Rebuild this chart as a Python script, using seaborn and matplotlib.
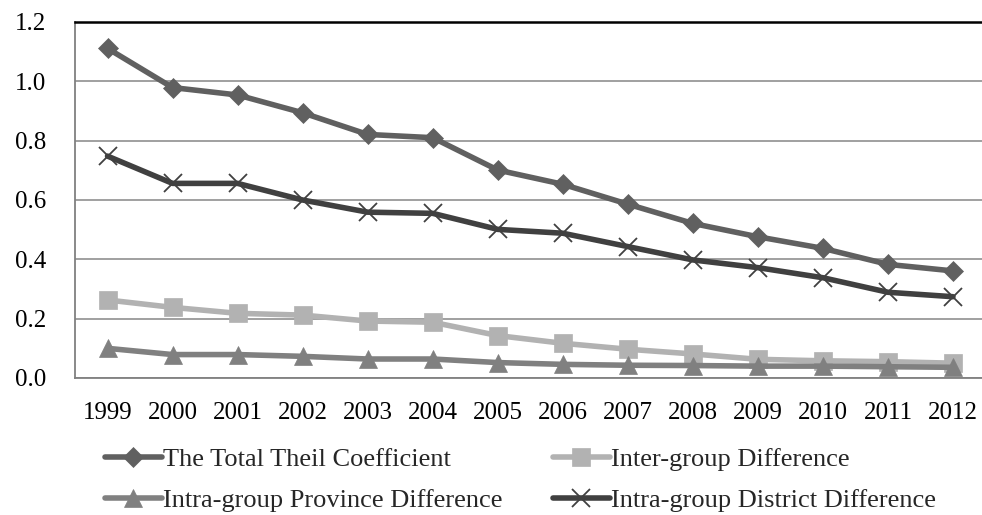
import matplotlib
matplotlib.use("Agg")
import matplotlib.pyplot as plt
import seaborn as sns
import pandas as pd
import numpy as np

years = ["1999", "2000", "2001", "2002", "2003", "2004", "2005", "2006",
         "2007", "2008", "2009", "2010", "2011", "2012"]
total_theil = [1.111, 0.979, 0.954, 0.894, 0.821, 0.810, 0.701, 0.653,
               0.586, 0.521, 0.476, 0.437, 0.383, 0.361]
inter_group = [0.263, 0.238, 0.218, 0.212, 0.192, 0.188, 0.143, 0.117,
               0.097, 0.081, 0.063, 0.058, 0.055, 0.050]
intra_province = [0.100, 0.079, 0.079, 0.073, 0.064, 0.064, 0.052, 0.046,
                  0.043, 0.042, 0.040, 0.040, 0.038, 0.036]
intra_district = [0.748, 0.656, 0.656, 0.600, 0.559, 0.555, 0.501, 0.488,
                  0.443, 0.398, 0.372, 0.338, 0.289, 0.274]

series_names = ["The Total Theil Coefficient", "Inter-group Difference",
                "Intra-group Province Difference", "Intra-group District Difference"]
series_values = [total_theil, inter_group, intra_province, intra_district]
colors = ["#606060", "#b2b2b2", "#808080", "#404040"]
markers = ["D", "s", "^", "x"]
msizes = [10, 13, 13, 13]

sns.set_theme(style="white")
plt.rcParams["font.family"] = ["Liberation Serif", "DejaVu Serif"]

W, H = 982, 515
fig = plt.figure(figsize=(W / 100, H / 100), dpi=100)
left_px, right_px, top_px, bottom_px = 75, 985.5, 22, 378
ax = fig.add_axes([left_px / W, 1 - bottom_px / H,
                   (right_px - left_px) / W, (bottom_px - top_px) / H])

xpos = np.arange(len(years))
handles = []
for name, vals, c, m, ms in zip(series_names, series_values, colors, markers, msizes):
    df = pd.DataFrame({"x": xpos, "y": vals})
    sns.lineplot(data=df, x="x", y="y", ax=ax, color=c, linewidth=4,
                 marker=m, markersize=ms, markeredgecolor=c,
                 markeredgewidth=1.3 if m == "x" else 0.5, label=name, legend=False)
    handles.append(ax.lines[-1])

ax.set_xlim(-0.5, len(years) - 0.5)
ax.set_ylim(0, 1.2)
yt = np.arange(0, 1.21, 0.2)
ax.set_yticks(yt)
ax.set_yticklabels([f"{v:.1f}" for v in yt])
ax.set_xticks(xpos)
ax.set_xticklabels(years)
ax.set_xticks(np.arange(0.5, len(years) - 0.5, 1), minor=True)
ax.tick_params(axis="x", which="major", length=0, labelsize=18, pad=17, colors="black")
ax.tick_params(axis="x", which="minor", length=7, width=1.2, direction="in", color="#808080")
ax.tick_params(axis="y", length=0, labelsize=18, pad=21, colors="black")
ax.set_xlabel("")
ax.set_ylabel("")

ax.grid(axis="y", color="#999999", linewidth=1.3)
ax.set_axisbelow(True)
for s in ["left", "bottom"]:
    ax.spines[s].set_color("#808080")
    ax.spines[s].set_linewidth(1.3)
ax.spines["top"].set_color("black")
ax.spines["top"].set_linewidth(1.8)
ax.spines["right"].set_visible(False)

leg_kw = dict(loc="upper left", frameon=False, fontsize=19, handlelength=2.15,
              handletextpad=0.05, labelspacing=0.65, borderpad=0, borderaxespad=0)
leg1 = fig.legend([handles[0], handles[2]], [series_names[0], series_names[2]],
                  bbox_to_anchor=(105 / W, 1 - 448 / H), **leg_kw)
leg2 = fig.legend([handles[1], handles[3]], [series_names[1], series_names[3]],
                  bbox_to_anchor=(553 / W, 1 - 448 / H), **leg_kw)

fig.savefig("out.png", dpi=100)
